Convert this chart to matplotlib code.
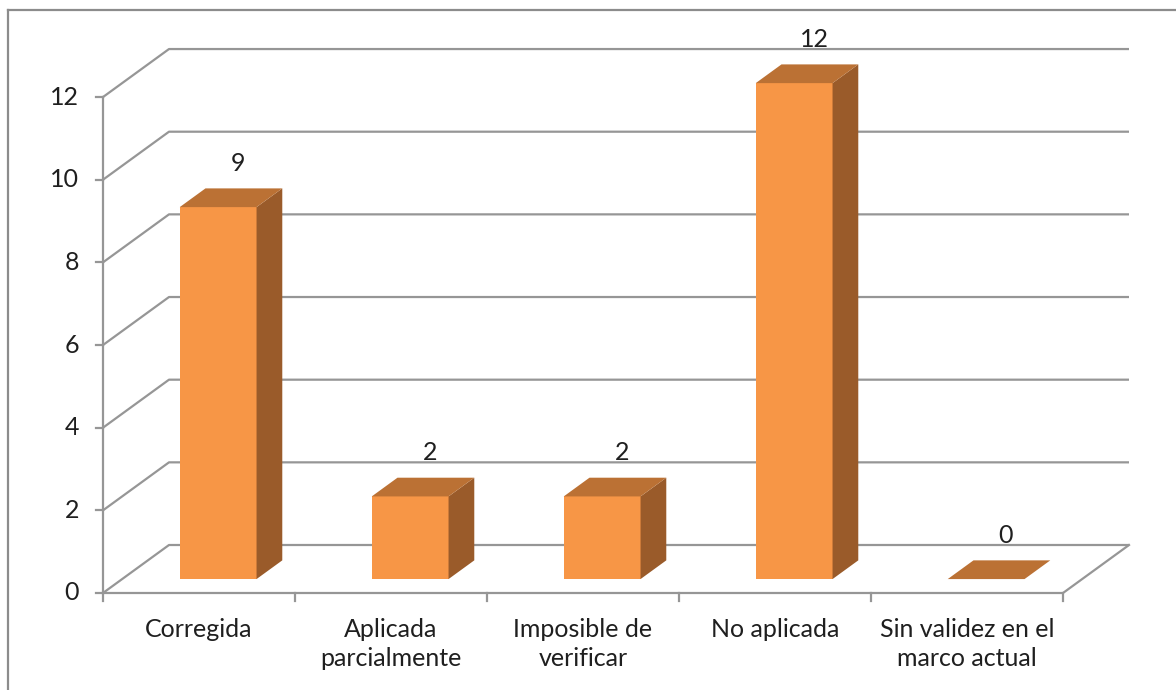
import matplotlib.pyplot as plt
from matplotlib.patches import Polygon

categories = ["Corregida", "Aplicada\nparcialmente", "Imposible de\nverificar",
              "No aplicada", "Sin validez en el\nmarco actual"]
values = [9, 2, 2, 12, 0]
yticks = [0, 2, 4, 6, 8, 10, 12]

front_col = "#F79646"
top_col = "#BB7134"
side_col = "#9A5B2A"
grid_col = "#969696"
text_col = "#1f1f1f"

plt.rcParams['font.family'] = ['Lato', 'DejaVu Sans']

W, H = 1176, 690
fig = plt.figure(figsize=(W / 100, H / 100), dpi=100)
ax = fig.add_axes([0, 0, 1, 1])
ax.axis('off')

# pixel geometry of the 3d box, turned into data units
x0_px, cat_px = 103, 192
y0_px, unit_px = 593, 41.33
ax.set_xlim(-x0_px / cat_px, (W - x0_px) / cat_px)
ax.set_ylim(-(H - y0_px) / unit_px, y0_px / unit_px)

ddx = 66 / cat_px      # depth offset in category units
ddy = 48 / unit_px     # depth offset in value units
n = len(categories)
ymax = yticks[-1]
lw = 1.6
fs = 18

# left wall and back wall gridlines
for t in yticks:
    ax.plot([0, ddx, n + ddx], [t, t + ddy, t + ddy], color=grid_col, lw=lw,
            solid_capstyle='butt', zorder=1)
    ax.plot([-7 / cat_px, 0], [t, t], color=grid_col, lw=lw, zorder=1)
    ax.text(-24 / cat_px, t, str(t), ha='right', va='center', fontsize=fs,
            color=text_col)

# floor edges and vertical axis
ax.plot([0, n, n + ddx], [0, 0, ddy], color=grid_col, lw=lw, zorder=1)
ax.plot([0, 0], [0, ymax], color=grid_col, lw=lw, zorder=1)
for i in range(n + 1):
    ax.plot([i, i], [0, -8 / unit_px], color=grid_col, lw=lw, zorder=1)

for i, lab in enumerate(categories):
    ax.text(i + 0.5, -25 / unit_px, lab, ha='center', va='top', fontsize=fs,
            color=text_col, linespacing=1.3)

# 3d bars: front face, top and right side
f0, f1 = 0.29, 0.68
half = 0.2
for i, v in enumerate(values):
    xl = i + 0.5 - half + f0 * ddx
    xr = i + 0.5 + half + f0 * ddx
    yb = f0 * ddy
    yt = v + f0 * ddy
    sx = (f1 - f0) * ddx
    sy = (f1 - f0) * ddy
    if v > 0:
        ax.add_patch(Polygon([(xl, yb), (xr, yb), (xr, yt), (xl, yt)],
                             closed=True, fc=front_col, ec='none', zorder=3))
        ax.add_patch(Polygon([(xr, yb), (xr + sx, yb + sy), (xr + sx, yt + sy), (xr, yt)],
                             closed=True, fc=side_col, ec='none', zorder=3))
    ax.add_patch(Polygon([(xl, yt), (xr, yt), (xr + sx, yt + sy), (xl + sx, yt + sy)],
                         closed=True, fc=top_col, ec='none', zorder=3))
    ax.text(i + 0.5 + 39 / cat_px, yt + sy + 25 / unit_px, str(v), ha='center',
            va='center', fontsize=fs, color=text_col, zorder=4)

# chart area border (top and left edges fall inside the image)
ax.plot([-95 / cat_px, (W + 10 - x0_px) / cat_px], [583 / unit_px, 583 / unit_px],
        color='#8c8c8c', lw=1.6, clip_on=False)
ax.plot([-95 / cat_px, -95 / cat_px], [583 / unit_px, -(H + 10 - y0_px) / unit_px],
        color='#8c8c8c', lw=1.6, clip_on=False)

fig.savefig("out.png", dpi=100)
